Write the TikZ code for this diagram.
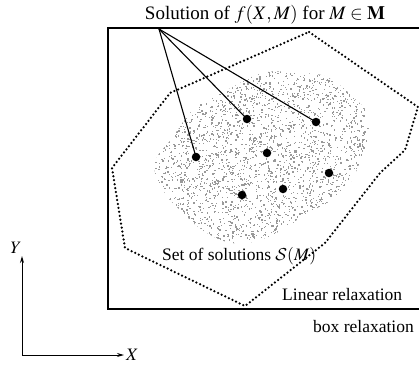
\documentclass[tikz,border=0pt]{standalone}
\usepackage{mathptmx}
\usepackage[no-math]{fontspec}
\setmainfont{Liberation Serif}
\usetikzlibrary{arrows.meta}
\DeclareMathAlphabet{\mathcal}{OMS}{cmsy}{m}{n}
\begin{document}
\begin{tikzpicture}[x=1pt,y=-1pt,
  sol/.style={circle,fill=black,inner sep=0pt,minimum size=8.5pt},
  fan/.style={line width=1.1pt},
  boxline/.style={line width=1.5pt},
  relax/.style={line width=2.5pt,dash pattern=on 0pt off 4pt,line cap=round,line join=round},
  lbl/.style={inner sep=0pt,font=\fontsize{17.5}{20}\selectfont},
  axis/.style={line width=1pt,-{Stealth[length=7pt,width=4pt]}}]
\useasboundingbox (0,0) rectangle (419,367);
% blob texture
\begin{scope}
\clip plot[smooth cycle,tension=0.7] coordinates {(155,163) (173,137) (190,113) (207,100) (227,90) (263,73) (297,73) (327,77) (353,97) (370,117) (370,140) (360,163) (347,187) (327,203) (307,213) (287,227) (260,240) (233,243) (207,233) (183,213) (163,190)};
\pgfmathsetseed{7}
\foreach \i in {1,...,3400}{
  \pgfmathsetmacro{\px}{150+rnd*225}
  \pgfmathsetmacro{\py}{68+rnd*180}
  \fill[black!40] (\px,\py) rectangle ++(1.3,1.3);
}
\end{scope}
% box relaxation
\draw[boxline] (419,28) -- (108,28) -- (108,309) -- (419,309);
% linear relaxation
\draw[relax] (309,32) -- (418,107) -- (405,150) -- (380,173) -- (325,243) -- (245,306) -- (125,248) -- (112,168) -- (170,93) -- cycle;
% solutions
\node[sol] (d1) at (196,157) {};
\node[sol] (d2) at (247,119) {};
\node[sol] (d3) at (316,122) {};
\node[sol] (d4) at (267,153) {};
\node[sol] (d5) at (329,173) {};
\node[sol] (d6) at (283,189) {};
\node[sol] (d7) at (242,195) {};
\coordinate (o) at (159,29);
\draw[fan] (o) -- (d1.center);
\draw[fan] (o) -- (d2.center);
\draw[fan] (o) -- (d3.center);
% labels
\node[lbl,anchor=base,font=\fontsize{19}{22}\selectfont] (title) at (265,19) {Solution of $f(X,M)$ for $M\in\mathbf{M}$};
\node[lbl,anchor=base west] (setlbl) at (162,260) {Set of solutions $\mathcal{S}(M)$};
\node[lbl,anchor=base west] (linlbl) at (282,300) {Linear relaxation};
\node[lbl,anchor=base west] (boxlbl) at (313,332) {box relaxation};
% axes
\coordinate (ax) at (22,355);
\coordinate (ay) at (22,256);
\coordinate (axx) at (124,355);
\draw[axis] (ax) -- (ay);
\draw[axis] (ax) -- (axx);
\node[lbl,anchor=base] (ylbl) at (16,253) {$Y$};
\node[lbl,anchor=base west] (xlbl) at (126,360) {$X$};
\end{tikzpicture}
\end{document}
